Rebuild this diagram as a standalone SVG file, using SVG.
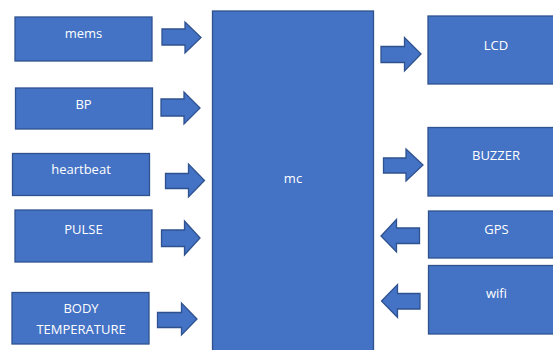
<svg xmlns="http://www.w3.org/2000/svg" width="553" height="350" viewBox="0 0 553 350">
<style>
.b{fill:#4472C4;stroke:#2F528F;stroke-width:1.3}
.a{fill:#4472C4;stroke:#2F528F;stroke-width:1.3;stroke-linejoin:miter}
text{font-family:"Open Sans","Liberation Sans",sans-serif;font-size:13px;fill:#FFFFFF;text-anchor:middle}
</style>
<rect width="553" height="350" fill="#FFFFFF"/>
<g id="mems"><rect class="b" x="15" y="17" width="137" height="44"/><text x="83.5" y="38">mems</text></g>
<g id="bp"><rect class="b" x="15.5" y="88" width="137" height="41"/><text x="83.5" y="108.5">BP</text></g>
<g id="heartbeat"><rect class="b" x="12.5" y="153.5" width="137" height="42"/><text x="81" y="173.5">heartbeat</text></g>
<g id="pulse"><rect class="b" x="15" y="210" width="137" height="52"/><text x="83.5" y="233.5">PULSE</text></g>
<g id="bodytemp"><rect class="b" x="12" y="292.5" width="137" height="51.5"/><text x="81" y="312.5">BODY</text><text x="81" y="333.5">TEMPERATURE</text></g>
<g id="mc"><rect class="b" x="212.5" y="11" width="161" height="345"/><text x="293" y="182.5">mc</text></g>
<g id="lcd"><rect class="b" x="428" y="16" width="136" height="68"/><text x="496" y="49.5">LCD</text></g>
<g id="buzzer"><rect class="b" x="428" y="127.5" width="136" height="68.5"/><text x="496" y="159.5">BUZZER</text></g>
<g id="gps"><rect class="b" x="428.5" y="211" width="136" height="47"/><text x="496.5" y="233.5">GPS</text></g>
<g id="wifi"><rect class="b" x="428.5" y="265.5" width="136" height="68.5"/><text x="496.5" y="297.5">wifi</text></g>
<g id="connectors">
<polygon class="a" points="162,29 185,29 185,22 201,37.5 185,53 185,45 162,45"/>
<polygon class="a" points="161,99 184,99 184,92 200,108 184,124 184,116 161,116"/>
<polygon class="a" points="165.5,173.5 188.5,173.5 188.5,164 204.5,180.5 188.5,197 188.5,188.5 165.5,188.5"/>
<polygon class="a" points="161.5,230 184.5,230 184.5,221 200,238 184.5,255 184.5,246.5 161.5,246.5"/>
<polygon class="a" points="157.5,312.5 181.5,312.5 181.5,303 197,319 181.5,335 181.5,327.5 157.5,327.5"/>
<polygon class="a" points="381,46.5 404.5,46.5 404.5,37.5 421,54 404.5,71 404.5,62.5 381,62.5"/>
<polygon class="a" points="383.5,158 406,158 406,149 423,165 406,181 406,173 383.5,173"/>
<polygon class="a" points="419.5,228 396.5,228 396.5,219.5 381,236 396.5,252 396.5,243.5 419.5,243.5"/>
<polygon class="a" points="420,293.5 397.5,293.5 397.5,284.5 381.5,301 397.5,317.5 397.5,309 420,309"/>
</g>
</svg>
